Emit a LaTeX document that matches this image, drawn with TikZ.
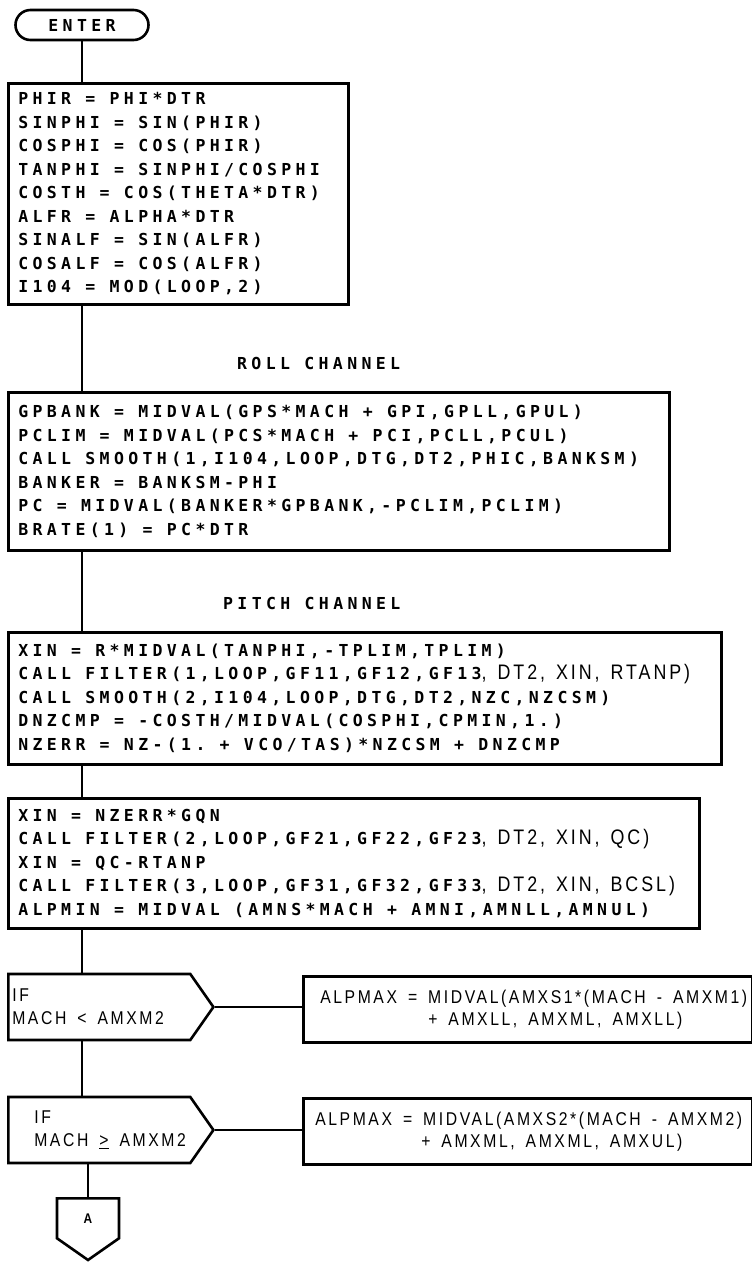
\documentclass[tikz,border=0pt]{standalone}
\usepackage{fontspec}
\usetikzlibrary{positioning,shapes.symbols}
\newfontfamily\codefont[LetterSpace=26.5]{DejaVu Sans Mono}
\newfontfamily\signfont[FakeStretch=0.85,LetterSpace=14]{Liberation Sans}
\newcommand{\codesize}{\fontsize{16.5pt}{23.5pt}\selectfont}
\newcommand{\sk}{\hspace*{14.3pt}}
\newcommand{\ssk}{\hspace*{11pt}}
\newcommand{\sgn}[1]{{\signfont\mdseries\fontsize{21pt}{23pt}\selectfont #1}}

\tikzset{
  codebox/.style={draw, line width=2.6pt, rectangle, anchor=north west, align=left,
    inner xsep=10pt, inner ysep=0pt, font=\codefont\bfseries\codesize},
  codetext/.style={anchor=west, inner sep=0pt, font=\codefont\bfseries\codesize},
  termbox/.style={draw, line width=2.6pt, rectangle, rounded corners=15pt,
    minimum width=133pt, minimum height=30pt, inner sep=0pt,
    font=\codefont\bfseries\codesize},
  ifbox/.style={draw, line width=2.6pt, shape=signal, signal to=east, signal pointer angle=110,
    anchor=west, align=left, inner xsep=4pt, inner ysep=0pt, text width=174pt, minimum height=66pt,
    font=\signfont\fontsize{18.5pt}{23pt}\selectfont},
  maxbox/.style={draw, line width=2.6pt, rectangle, anchor=north west, align=left,
    inner xsep=4.5pt, inner ysep=0pt, text width=440pt, minimum height=66pt,
    font=\signfont\fontsize{18.5pt}{22pt}\selectfont},
  offpage/.style={draw, line width=2.6pt, shape=signal, signal to=south, signal from=nowhere,
    signal pointer angle=110, anchor=north, minimum width=62pt, minimum height=43pt, inner sep=0pt,
    font=\signfont\bfseries\fontsize{14pt}{14pt}\selectfont},
  conn/.style={line width=2.6pt}
}

\begin{document}
\begin{tikzpicture}[x=1pt,y=-1pt]
  \useasboundingbox (0,0) rectangle (752,1262);
  \coordinate (trunk) at (82,0);

  \node[termbox] (enter) at (82,25) {ENTER};

  \node[codebox, text width=320pt, minimum height=221pt] (init) at (7,82)
    {PHIR\sk=\sk PHI*DTR\\
     SINPHI\sk=\sk SIN(PHIR)\\
     COSPHI\sk=\sk COS(PHIR)\\
     TANPHI\sk=\sk SINPHI/COSPHI\\
     COSTH\sk=\sk COS(THETA*DTR)\\
     ALFR\sk=\sk ALPHA*DTR\\
     SINALF\sk=\sk SIN(ALFR)\\
     COSALF\sk=\sk COS(ALFR)\\
     I104\sk=\sk MOD(LOOP,2)};

  \node[codetext] (roll) at (237,363) {ROLL\sk CHANNEL};
  \node[codebox, text width=641pt, minimum height=158pt] (rollbox) at (7,391)
    {GPBANK\sk=\sk MIDVAL(GPS*MACH\sk+\sk GPI,GPLL,GPUL)\\
     PCLIM\sk=\sk MIDVAL(PCS*MACH\sk+\sk PCI,PCLL,PCUL)\\
     CALL\sk SMOOTH(1,I104,LOOP,DTG,DT2,PHIC,BANKSM)\\
     BANKER\sk=\sk BANKSM-PHI\\
     PC\sk=\sk MIDVAL(BANKER*GPBANK,-PCLIM,PCLIM)\\
     BRATE(1)\sk=\sk PC*DTR};

  \node[codetext] (pitch) at (223,603) {PITCH\sk CHANNEL};
  \node[codebox, text width=693pt, minimum height=132pt] (pitchbox) at (7,631)
    {XIN\sk=\sk R*MIDVAL(TANPHI,-TPLIM,TPLIM)\\
     CALL\sk FILTER(1,LOOP,GF11,GF12,GF13\sgn{,\ssk DT2,\ssk XIN,\ssk RTANP)}\\
     CALL\sk SMOOTH(2,I104,LOOP,DTG,DT2,NZC,NZCSM)\\
     DNZCMP\sk=\sk -COSTH/MIDVAL(COSPHI,CPMIN,1.)\\
     NZERR\sk=\sk NZ-(1.\sk+\sk VCO/TAS)*NZCSM\sk+\sk DNZCMP};

  \node[codebox, text width=671pt, minimum height=130pt] (alpmin) at (7,797)
    {XIN\sk=\sk NZERR*GQN\\
     CALL\sk FILTER(2,LOOP,GF21,GF22,GF23\sgn{,\ssk DT2,\ssk XIN,\ssk QC)}\\
     XIN\sk=\sk QC-RTANP\\
     CALL\sk FILTER(3,LOOP,GF31,GF32,GF33\sgn{,\ssk DT2,\ssk XIN,\ssk BCSL)}\\
     ALPMIN\sk=\sk MIDVAL\sk(AMNS*MACH\sk+\sk AMNI,AMNLL,AMNUL)};

  \node[ifbox] (if1) at (7,1007) {IF\\MACH\ssk<\ssk AMXM2};
  \node[maxbox] (max1) at (302,975)
    {\hspace*{12.5pt}ALPMAX\ssk=\ssk MIDVAL(AMXS1*(MACH\ssk-\ssk AMXM1)\\
     \hspace*{120.5pt}+\ssk AMXLL,\ssk AMXML,\ssk AMXLL)};

  \node[ifbox] (if2) at (7,1130)
    {\hspace*{22pt}IF\\\hspace*{22pt}MACH\ssk\underline{>}\ssk AMXM2};
  \node[maxbox] (max2) at (302,1097)
    {\hspace*{7.5pt}ALPMAX\ssk=\ssk MIDVAL(AMXS2*(MACH\ssk-\ssk AMXM2)\\
     \hspace*{113.5pt}+\ssk AMXML,\ssk AMXML,\ssk AMXUL)};

  \node[offpage] (conA) at (88,1197) {A};

  % flow
  \draw[conn] (enter) -- (enter |- init.north);
  \draw[conn] (init.south -| trunk) -- (rollbox.north -| trunk);
  \draw[conn] (rollbox.south -| trunk) -- (pitchbox.north -| trunk);
  \draw[conn] (pitchbox.south -| trunk) -- (alpmin.north -| trunk);
  \draw[conn] (alpmin.south -| trunk) -- (if1.north -| trunk);
  \draw[conn] (if1.south -| trunk) -- (if2.north -| trunk);
  \draw[conn] (if2.south -| conA.north) -- (conA.north);
  \draw[conn] (if1.east) -- (max1.west |- if1.east);
  \draw[conn] (if2.east) -- (max2.west |- if2.east);
\end{tikzpicture}
\end{document}
